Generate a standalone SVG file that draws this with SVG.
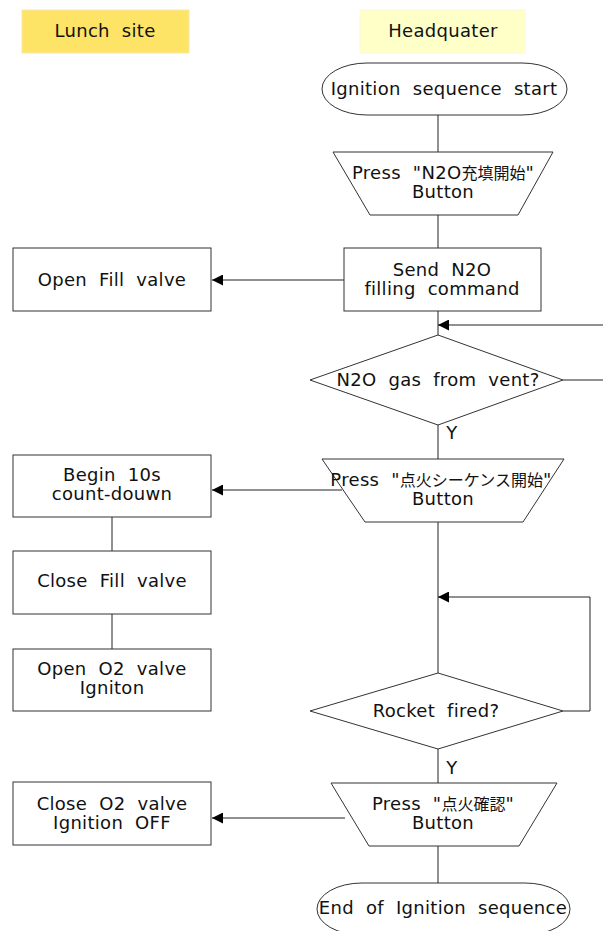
<svg xmlns="http://www.w3.org/2000/svg" width="603" height="931" viewBox="0 0 603 931">
<style>
text{font-family:"DejaVu Sans","Noto Sans CJK JP",sans-serif;font-size:18px;fill:#111;text-anchor:middle;letter-spacing:0.3px;word-spacing:6px}
.cjk{font-size:16px;letter-spacing:0px}
.shape{fill:#fff;stroke:#333;stroke-width:1}
.conn line,.conn polyline{stroke:#222;stroke-width:1;fill:none}
</style>
<defs>
<marker id="arr" viewBox="0 0 10 10" refX="10" refY="5" markerWidth="11" markerHeight="11" markerUnits="userSpaceOnUse" orient="auto">
<path d="M0,0 L10,5 L0,10 z" fill="#000"/>
</marker>
</defs>
<g class="conn">
<line x1="438" y1="115" x2="438" y2="152"/>
<line x1="438" y1="215" x2="438" y2="248"/>
<line x1="344" y1="280" x2="212" y2="280" marker-end="url(#arr)"/>
<line x1="438" y1="311" x2="438" y2="335"/>
<line x1="603" y1="325" x2="438" y2="325" marker-end="url(#arr)"/>
<line x1="563" y1="380" x2="603" y2="380"/>
<line x1="438" y1="425" x2="438" y2="459"/>
<line x1="342" y1="490" x2="212" y2="490" marker-end="url(#arr)"/>
<line x1="112" y1="517" x2="112" y2="551"/>
<line x1="112" y1="614" x2="112" y2="649"/>
<line x1="438" y1="522" x2="438" y2="673"/>
<polyline points="563,711 590,711 590,597 438,597" marker-end="url(#arr)"/>
<line x1="438" y1="749" x2="438" y2="783"/>
<line x1="345" y1="818" x2="212" y2="818" marker-end="url(#arr)"/>
<line x1="438" y1="846" x2="438" y2="883"/>
</g>
<g id="lane-lunch">
<rect x="22" y="10" width="167" height="43" fill="#fde366" stroke="#fbe8a0" stroke-width="1"/>
<text x="105" y="37">Lunch site</text>
</g>
<g id="lane-hq">
<rect x="360" y="10" width="165" height="43" fill="#ffffc8" stroke="#fbf7d8" stroke-width="1"/>
<text x="443" y="37">Headquater</text>
</g>
<g id="start">
<rect class="shape" x="322" y="63" width="245" height="52" rx="45" ry="26"/>
<text x="444" y="95">Ignition sequence start</text>
</g>
<g id="press-n2o">
<polygon class="shape" points="333,152 553,152 518,215 370,215"/>
<text x="443" y="179">Press "N2O<tspan class="cjk">充填開始</tspan>"</text>
<text x="443" y="198">Button</text>
</g>
<g id="send-n2o">
<rect class="shape" x="344" y="248" width="197" height="63"/>
<text x="442" y="276">Send N2O</text>
<text x="442" y="295">filling command</text>
</g>
<g id="open-fill">
<rect class="shape" x="13" y="248" width="198" height="63"/>
<text x="112" y="286">Open Fill valve</text>
</g>
<g id="n2o-vent">
<polygon class="shape" points="310,380 438,335 563,380 438,425"/>
<text x="438" y="386">N2O gas from vent?</text>
<text x="452" y="439">Y</text>
</g>
<g id="press-ignition">
<polygon class="shape" points="322,459 564,459 523,522 365,522"/>
<text x="441" y="486">Press "<tspan class="cjk">点火シーケンス開始</tspan>"</text>
<text x="443" y="505">Button</text>
</g>
<g id="countdown">
<rect class="shape" x="13" y="455" width="198" height="62"/>
<text x="112" y="481">Begin 10s</text>
<text x="112" y="500">count-douwn</text>
</g>
<g id="close-fill">
<rect class="shape" x="13" y="551" width="198" height="63"/>
<text x="112" y="587">Close Fill valve</text>
</g>
<g id="open-o2">
<rect class="shape" x="13" y="649" width="198" height="62"/>
<text x="112" y="675">Open O2 valve</text>
<text x="112" y="694">Igniton</text>
</g>
<g id="rocket-fired">
<polygon class="shape" points="310,711 438,673 563,711 438,749"/>
<text x="436" y="717">Rocket fired?</text>
<text x="452" y="774">Y</text>
</g>
<g id="press-confirm">
<polygon class="shape" points="331,783 557,783 519,846 369,846"/>
<text x="443" y="810">Press "<tspan class="cjk">点火確認</tspan>"</text>
<text x="443" y="829">Button</text>
</g>
<g id="close-o2">
<rect class="shape" x="13" y="782" width="198" height="63"/>
<text x="112" y="810">Close O2 valve</text>
<text x="112" y="829">Ignition OFF</text>
</g>
<g id="end">
<rect class="shape" x="317" y="883" width="253" height="52" rx="45" ry="26"/>
<text x="443" y="914">End of Ignition sequence</text>
</g>
</svg>
